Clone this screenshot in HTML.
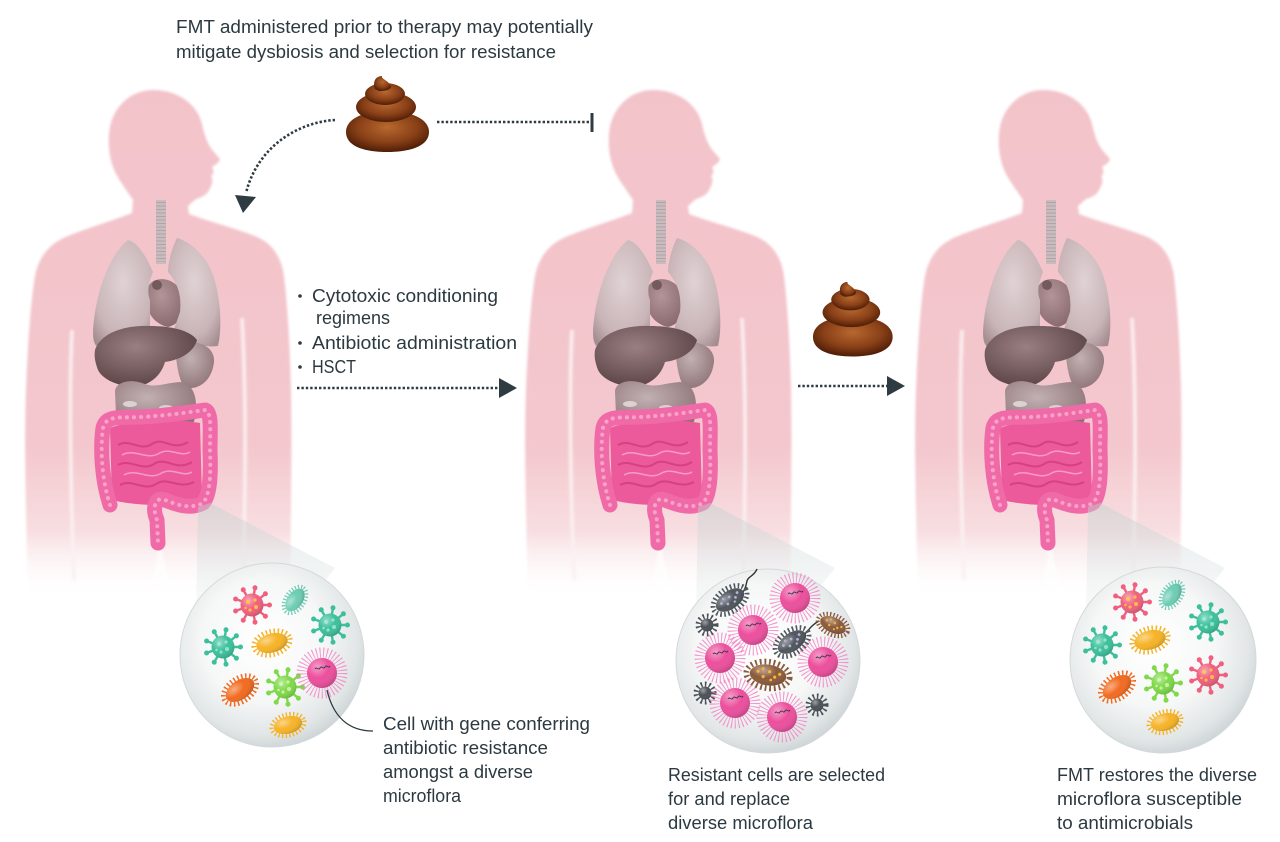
<!DOCTYPE html>
<html><head><meta charset="utf-8"><style>
html,body{margin:0;padding:0;background:#fff;}
svg{display:block;}
text{font-family:"Liberation Sans",Arial,sans-serif;font-size:18.5px;fill:#2c3940;}
</style></head><body>
<svg width="1280" height="842" viewBox="0 0 1280 842" xmlns="http://www.w3.org/2000/svg">
<defs>
 <linearGradient id="bg" gradientUnits="userSpaceOnUse" x1="0" y1="90" x2="0" y2="600">
  <stop offset="0" stop-color="#f3c3ca"/>
  <stop offset="0.7" stop-color="#f3c7cd"/>
  <stop offset="0.87" stop-color="#f8dfe2"/>
  <stop offset="1" stop-color="#ffffff" stop-opacity="0"/>
 </linearGradient>
 <radialGradient id="lung" cx=".5" cy=".4" r=".7"><stop offset="0" stop-color="#e0d2d4"/><stop offset=".7" stop-color="#c9b5b8"/><stop offset="1" stop-color="#a58e91"/></radialGradient>
 <radialGradient id="dark" cx=".4" cy=".35" r=".75"><stop offset="0" stop-color="#9a7f82"/><stop offset="1" stop-color="#553e40"/></radialGradient>
 <radialGradient id="heart" cx=".4" cy=".35" r=".75"><stop offset="0" stop-color="#a88d90"/><stop offset="1" stop-color="#705558"/></radialGradient>
 <radialGradient id="mid" cx=".4" cy=".35" r=".75"><stop offset="0" stop-color="#c2b0b2"/><stop offset="1" stop-color="#8a7073"/></radialGradient>
 <linearGradient id="fun" x1="0" y1="0" x2="0" y2="1"><stop offset="0" stop-color="#c3cfcf" stop-opacity=".8"/><stop offset="1" stop-color="#e3e9e9" stop-opacity=".4"/></linearGradient>
 <radialGradient id="circ" cx=".45" cy=".42" r=".6"><stop offset="0" stop-color="#ffffff"/><stop offset=".55" stop-color="#f6f7f7"/><stop offset=".85" stop-color="#e2e6e7"/><stop offset="1" stop-color="#cdd4d5"/></radialGradient>
 <radialGradient id="shade" cx=".35" cy=".3" r=".75"><stop offset="0" stop-color="#fff" stop-opacity=".45"/><stop offset=".5" stop-color="#fff" stop-opacity="0"/><stop offset="1" stop-color="#000" stop-opacity=".18"/></radialGradient>
 <radialGradient id="pg" cx=".5" cy=".4" r=".6"><stop offset="0" stop-color="#b8682f"/><stop offset=".6" stop-color="#8a4118"/><stop offset="1" stop-color="#4f1d06"/></radialGradient>
 <filter id="soft" x="-10%" y="-10%" width="120%" height="120%"><feGaussianBlur stdDeviation="1.2"/></filter>

 <g id="body">
  <path filter="url(#soft)" fill="url(#bg)" d="M153,90 C178,90 197,104 202,124 C205,138 209,147 214,152 L220,159 C219,163 215,165 212,167 C214,171 214,174 211,176 C213,179 213,183 210,188 C208,194 203,197 196,199 L188,206 L189,214 C210,222 235,228 255,236 C272,243 281,256 284,276 C288,310 290,350 291,390 C292,450 291,510 290,600 L28,600 C26,510 24,450 26,390 C28,340 31,300 35,276 C39,256 50,243 68,236 C90,227 112,221 132,213 L133,200 C127,191 121,183 116,174 C110,162 108,148 109,134 C111,108 130,90 153,90 Z"/>
  <g filter="url(#soft)" stroke="#fbf0f1" stroke-width="4" fill="none" opacity=".9">
   <path d="M72,330 C69,390 70,470 74,580"/>
   <path d="M242,318 C246,390 246,470 243,580"/>
  </g>
  <polygon points="160,540 150,600 172,600" fill="#fff" opacity=".6" filter="url(#soft)"/>
  <!-- trachea -->
  <rect x="156" y="200" width="10" height="64" fill="#c9bcbe"/>
  <line x1="161" y1="202" x2="161" y2="262" stroke="#9a8689" stroke-width="10" stroke-dasharray="1 2.5" opacity=".45"/>
  <!-- heart (behind lungs partially) -->
  <path d="M152,282 C165,274 182,284 184,300 C186,316 177,325 168,327 C154,324 146,312 146,298 C146,290 148,285 152,282Z" fill="url(#heart)" opacity=".85"/>
  <!-- lungs -->
  <path d="M128,240 C112,252 98,285 94,320 C92,335 93,345 98,347 C115,348 135,340 150,333 L150,300 C146,290 150,280 153,272 C147,258 138,242 128,240 Z" fill="url(#lung)"/>
  <path d="M177,238 C172,248 168,262 168,272 C176,282 182,292 180,312 L172,335 C187,342 205,348 218,346 C222,330 221,300 214,278 C208,258 192,242 177,238 Z" fill="url(#lung)"/>
  <circle cx="157" cy="285" r="5" fill="#735a5d"/>
  <!-- stomach -->
  <path d="M175,345 C195,338 215,345 214,362 C212,380 200,390 185,388 C178,380 176,360 175,345Z" fill="url(#mid)"/>
  <!-- liver -->
  <path d="M95,350 C100,335 120,325 150,326 C170,326 190,330 197,340 C194,352 180,360 165,362 C162,372 155,382 140,386 C120,388 103,380 98,370 C95,362 94,356 95,350 Z" fill="url(#dark)"/>
  <!-- lower organs -->
  <path d="M115,392 C115,382 130,378 145,384 C155,388 165,383 180,382 C195,384 198,400 195,418 C193,428 185,430 178,425 L150,422 C135,430 118,428 116,415 Z" fill="url(#mid)"/>
  <ellipse cx="130" cy="404" rx="7" ry="3" fill="#ddd1d2"/>
  <ellipse cx="166" cy="408" rx="7" ry="3" fill="#ddd1d2"/>
  <!-- intestines -->
  <path d="M110,428 C130,420 170,418 200,423 L202,497 C180,507 140,507 112,500 Z" fill="#ec5a9b"/>
  <g stroke="#d6417f" stroke-width="2" fill="none">
   <path d="M118,445 C130,438 140,452 152,444 C164,436 172,452 188,442"/>
   <path d="M118,465 C130,458 142,472 154,464 C166,456 176,472 192,462"/>
   <path d="M120,485 C132,478 144,492 156,484 C168,476 178,490 194,482"/>
  </g>
  <g stroke="#f69cc4" stroke-width="1.5" fill="none">
   <path d="M122,455 C134,448 146,460 158,454 C170,446 180,458 190,452"/>
   <path d="M124,475 C136,468 148,480 160,474 C172,466 182,478 192,472"/>
  </g>
  <path d="M110,505 C102,480 100,450 103,428 C106,415 120,418 140,417 C165,416 190,412 205,410 C212,412 210,430 210,450 C211,475 210,495 203,503 C190,510 175,504 165,500 C155,496 152,508 157,520 L158,543" stroke="#f06aa7" stroke-width="15" fill="none" stroke-linecap="round" stroke-linejoin="round"/>
  <path d="M110,505 C102,480 100,450 103,428 C106,415 120,418 140,417 C165,416 190,412 205,410 C212,412 210,430 210,450 C211,475 210,495 203,503 C190,510 175,504 165,500 C155,496 152,508 157,520 L158,543" stroke="#fab3d2" stroke-width="4" fill="none" stroke-dasharray="0.1 7" stroke-linecap="round" opacity=".8"/>
  <!-- funnel -->
  <path d="M198,507 L210,503 L335,568 L300,612 L196,612 Z" fill="url(#fun)" opacity=".6"/>
 </g>

 <g id="vir">
  <path d="M0,0L16,0M0,0L12.3,10.3M0,0L2.8,15.8M0,0L-8,13.9M0,0L-15.1,5.5M0,0L-15.1,-5.5M0,0L-8,-13.9M0,0L2.8,-15.8M0,0L12.3,-10.3" stroke="currentColor" stroke-width="2.4" stroke-linecap="round"/>
  <g fill="currentColor">
   <circle cx="17.5" cy="0" r="2.5"/><circle cx="13.4" cy="11.2" r="2.5"/><circle cx="3" cy="17.2" r="2.5"/><circle cx="-8.75" cy="15.2" r="2.5"/><circle cx="-16.4" cy="6" r="2.5"/><circle cx="-16.4" cy="-6" r="2.5"/><circle cx="-8.75" cy="-15.2" r="2.5"/><circle cx="3" cy="-17.2" r="2.5"/><circle cx="13.4" cy="-11.2" r="2.5"/>
  </g>
  <circle r="11.5" fill="currentColor"/>
  <circle r="11.5" fill="url(#shade)"/>
  <g style="fill:var(--d,#ffffff)" opacity=".8">
   <circle cx="-4" cy="-3" r="2"/><circle cx="3" cy="-5" r="1.6"/><circle cx="4" cy="2" r="2"/><circle cx="-2" cy="5" r="1.6"/><circle cx="-6.5" cy="3" r="1.3"/>
  </g>
 </g>
 <g id="ovl">
  <ellipse rx="18.5" ry="11.5" fill="none" stroke="currentColor" stroke-width="5" stroke-dasharray="1.5 2.5"/>
  <ellipse rx="16" ry="9.5" fill="currentColor"/>
  <ellipse rx="16" ry="9.5" fill="url(#shade)"/>
 </g>
 <g id="res">
  <circle r="20" fill="none" stroke="#f27cc2" stroke-width="11" stroke-dasharray="1 2.4" opacity=".8"/>
  <circle r="15" fill="#ec4f9d"/>
  <circle r="15" fill="url(#shade)"/>
  <path d="M-7,-4 c1.5,-3 3.5,2 5,-1 c1.5,-3 3.5,2 5,-1 c1.5,-3 3.5,2 5,-1" stroke="#3a3a4a" stroke-width="1" fill="none"/>
 </g>
 <g id="dbac">
  <ellipse rx="19" ry="11.5" fill="none" stroke="currentColor" stroke-width="5" stroke-dasharray="1.6 2.4"/>
  <ellipse rx="16" ry="9" fill="currentColor"/>
  <ellipse rx="16" ry="9" fill="url(#shade)"/>
  <g style="fill:var(--d,#b8b0dc)">
   <circle cx="-9" cy="-2" r="1.4"/><circle cx="-4" cy="2" r="1.4"/><circle cx="1" cy="-3" r="1.4"/><circle cx="6" cy="1" r="1.4"/><circle cx="10" cy="-2" r="1.4"/><circle cx="-5" cy="-5" r="1.2"/><circle cx="3" cy="4" r="1.2"/>
  </g>
 </g>
 <g id="sdv">
  <circle r="9" fill="none" stroke="currentColor" stroke-width="5" stroke-dasharray="1.6 2.6"/>
  <circle r="6.5" fill="currentColor"/>
  <circle r="6.5" fill="url(#shade)"/>
 </g>
 <g id="poop">
  <path d="M1,56 C1,42 20,35 42,35 C64,35 84,42 84,56 C84,71 63,76 42,76 C21,76 1,71 1,56Z" fill="url(#pg)"/>
  <ellipse cx="41" cy="31" rx="30" ry="15" fill="url(#pg)"/>
  <ellipse cx="40" cy="18" rx="20" ry="11" fill="url(#pg)"/>
  <path d="M30,13 C27,4 32,0 37,0 C36,3 43,4 46,10 C46,14 40,15 34,15Z" fill="url(#pg)"/>
 </g>
</defs>

<!-- bodies -->
<use href="#body"/>
<use href="#body" transform="translate(500,0)"/>
<use href="#body" transform="translate(890,0)"/>

<!-- circles -->
<circle cx="272" cy="655" r="92" fill="url(#circ)" stroke="#d3d9da" stroke-width="1"/>
<circle cx="768" cy="661" r="92" fill="url(#circ)" stroke="#d3d9da" stroke-width="1"/>
<circle cx="1163" cy="660" r="93" fill="url(#circ)" stroke="#d3d9da" stroke-width="1"/>

<!-- circle 1 microbes -->
<use href="#vir" transform="translate(252,605)" style="color:#f0607e;--d:#ffd23f"/>
<use href="#ovl" transform="translate(295,600) rotate(-55) scale(.8)" style="color:#6ccdb4"/>
<use href="#vir" transform="translate(330,625)" style="color:#3cc09c;--d:#a8ecd8"/>
<use href="#vir" transform="translate(223,647)" style="color:#3cc09c;--d:#a8ecd8"/>
<use href="#ovl" transform="translate(272,643) rotate(-15)" style="color:#f6b326"/>
<use href="#ovl" transform="translate(240,690) rotate(-35)" style="color:#f26a1f"/>
<use href="#vir" transform="translate(285,687)" style="color:#7fd94a;--d:#d8f7b8"/>
<use href="#ovl" transform="translate(288,725) rotate(-15) scale(.9)" style="color:#f6b326"/>
<use href="#res" transform="translate(322,673)"/>
<path d="M327,690 C333,716 348,731 373,731" stroke="#2c3940" stroke-width="1.3" fill="none"/>

<!-- circle 2 microbes -->
<path d="M743,592 C748,585 745,580 750,577 C754,574 756,572 757,569" stroke="#333" stroke-width="1.4" fill="none"/>
<path d="M805,634 C810,628 813,624 819,621" stroke="#333" stroke-width="1.4" fill="none"/>
<use href="#dbac" transform="translate(730,600) rotate(-35)" style="color:#4f565c"/>
<use href="#res" transform="translate(795,598)"/>
<use href="#sdv" transform="translate(707,625)" style="color:#4a5157"/>
<use href="#res" transform="translate(753,630)"/>
<use href="#dbac" transform="translate(833,625) rotate(25) scale(.85)" style="color:#8b5a3c;--d:#f5b73a"/>
<use href="#dbac" transform="translate(792,642) rotate(-35)" style="color:#4f565c"/>
<use href="#res" transform="translate(720,658)"/>
<use href="#res" transform="translate(823,662)"/>
<use href="#dbac" transform="translate(768,675) rotate(8) scale(1.15)" style="color:#8b5a3c;--d:#f5b73a"/>
<use href="#sdv" transform="translate(705,693)" style="color:#4a5157"/>
<use href="#res" transform="translate(735,703)"/>
<use href="#res" transform="translate(782,717)"/>
<use href="#sdv" transform="translate(817,705)" style="color:#4a5157"/>

<!-- circle 3 microbes -->
<use href="#vir" transform="translate(1132,602)" style="color:#f0607e;--d:#ffd23f"/>
<use href="#ovl" transform="translate(1172,595) rotate(-55) scale(.8)" style="color:#6ccdb4"/>
<use href="#vir" transform="translate(1208,622)" style="color:#3cc09c;--d:#a8ecd8"/>
<use href="#vir" transform="translate(1102,645)" style="color:#3cc09c;--d:#a8ecd8"/>
<use href="#ovl" transform="translate(1150,640) rotate(-15)" style="color:#f6b326"/>
<use href="#vir" transform="translate(1163,683)" style="color:#7fd94a;--d:#d8f7b8"/>
<use href="#ovl" transform="translate(1117,687) rotate(-35)" style="color:#f26a1f"/>
<use href="#vir" transform="translate(1208,675)" style="color:#f0607e;--d:#ffd23f"/>
<use href="#ovl" transform="translate(1165,722) rotate(-15) scale(.9)" style="color:#f6b326"/>

<!-- poops -->
<use href="#poop" transform="translate(345,76)"/>
<use href="#poop" transform="translate(812,282) scale(.96,.98)"/>

<!-- arrows -->
<g stroke="#2f3b43" stroke-width="2.6" fill="none" stroke-dasharray="2.4 2">
 <path d="M335,120 C300,122 258,145 246,193"/>
 <line x1="437" y1="122" x2="590" y2="122"/>
 <line x1="297" y1="388" x2="500" y2="388"/>
 <line x1="798" y1="386" x2="888" y2="386"/>
</g>
<line x1="592" y1="113" x2="592" y2="132" stroke="#2f3b43" stroke-width="3"/>
<g fill="#2f3b43">
 <polygon points="235,195 256,197 243,213"/>
 <polygon points="499,378 517,388 499,398"/>
 <polygon points="887,376 905,386 887,396"/>
 <circle cx="300" cy="296" r="1.8"/>
 <circle cx="300" cy="343" r="1.8"/>
 <circle cx="300" cy="367" r="1.8"/>
</g>

<!-- text -->
<text x="176" y="33" textLength="417" lengthAdjust="spacingAndGlyphs">FMT administered prior to therapy may potentially</text>
<text x="176" y="58" textLength="380" lengthAdjust="spacingAndGlyphs">mitigate dysbiosis and selection for resistance</text>

<text x="312" y="302" textLength="186" lengthAdjust="spacingAndGlyphs">Cytotoxic conditioning</text>
<text x="316" y="324" textLength="74" lengthAdjust="spacingAndGlyphs">regimens</text>
<text x="312" y="349" textLength="205" lengthAdjust="spacingAndGlyphs">Antibiotic administration</text>
<text x="312" y="373" textLength="44" lengthAdjust="spacingAndGlyphs">HSCT</text>

<text x="383" y="730" textLength="207" lengthAdjust="spacingAndGlyphs">Cell with gene conferring</text>
<text x="383" y="754" textLength="165" lengthAdjust="spacingAndGlyphs">antibiotic resistance</text>
<text x="383" y="778" textLength="150" lengthAdjust="spacingAndGlyphs">amongst a diverse</text>
<text x="383" y="802" textLength="78" lengthAdjust="spacingAndGlyphs">microflora</text>

<text x="668" y="781" textLength="217" lengthAdjust="spacingAndGlyphs">Resistant cells are selected</text>
<text x="668" y="805" textLength="122" lengthAdjust="spacingAndGlyphs">for and replace</text>
<text x="668" y="829" textLength="145" lengthAdjust="spacingAndGlyphs">diverse microflora</text>

<text x="1057" y="781" textLength="200" lengthAdjust="spacingAndGlyphs">FMT restores the diverse</text>
<text x="1057" y="805" textLength="185" lengthAdjust="spacingAndGlyphs">microflora susceptible</text>
<text x="1057" y="829" textLength="136" lengthAdjust="spacingAndGlyphs">to antimicrobials</text>
</svg>
</body></html>
